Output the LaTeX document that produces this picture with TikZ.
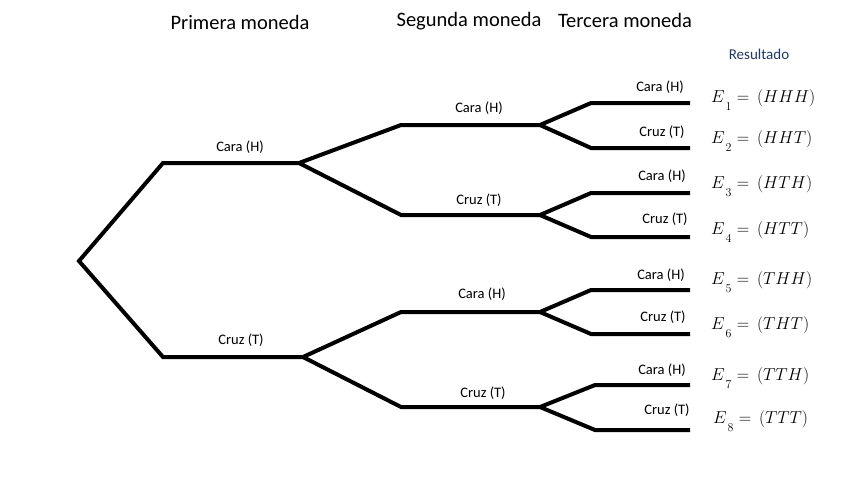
\documentclass[tikz,border=0pt]{standalone}
\usepackage{fontspec}
\setmainfont{Carlito}
\begin{document}
\begin{tikzpicture}[x=1pt,y=-1pt,
  branch/.style={line width=4pt,line join=miter,line cap=butt},
  head/.style={font=\fontsize{20.5}{24}\selectfont,inner sep=0pt},
  lab/.style={font=\fontsize{14.5}{17}\selectfont,inner sep=0pt},
  res/.style={font=\fontsize{15}{18}\selectfont,inner sep=0pt,text=resblue},
  ev/.style={font=\fontsize{17}{20}\selectfont,inner sep=0pt,anchor=west}]
\definecolor{resblue}{HTML}{1F3864}
\useasboundingbox (0,0) rectangle (866,480);
% coordinates
\coordinate (r) at (79,261);
\coordinate (a1) at (163,163); \coordinate (a2) at (299,163);
\coordinate (b1) at (163,357); \coordinate (b2) at (303,357);
\coordinate (aa1) at (401,125); \coordinate (aa2) at (540,125);
\coordinate (ab1) at (401,215); \coordinate (ab2) at (540,215);
\coordinate (ba1) at (401,312); \coordinate (ba2) at (540,312);
\coordinate (bb1) at (401,407); \coordinate (bb2) at (540,407);
\coordinate (l1a) at (591,103); \coordinate (l1b) at (690,103);
\coordinate (l2a) at (591,148); \coordinate (l2b) at (690,148);
\coordinate (l3a) at (591,193); \coordinate (l3b) at (690,193);
\coordinate (l4a) at (591,237); \coordinate (l4b) at (690,237);
\coordinate (l5a) at (591,290); \coordinate (l5b) at (690,290);
\coordinate (l6a) at (591,334); \coordinate (l6b) at (690,334);
\coordinate (l7a) at (595,385); \coordinate (l7b) at (690,385);
\coordinate (l8a) at (595,430); \coordinate (l8b) at (690,430);
% branches
\draw[branch] (a2) -- (a1) -- (r) -- (b1) -- (b2);
\draw[branch] (aa2) -- (aa1) -- (a2) -- (ab1) -- (ab2);
\draw[branch] (ba2) -- (ba1) -- (b2) -- (bb1) -- (bb2);
\draw[branch] (l1b) -- (l1a) -- (aa2) -- (l2a) -- (l2b);
\draw[branch] (l3b) -- (l3a) -- (ab2) -- (l4a) -- (l4b);
\draw[branch] (l5b) -- (l5a) -- (ba2) -- (l6a) -- (l6b);
\draw[branch] (l7b) -- (l7a) -- (bb2) -- (l8a) -- (l8b);
% headers
\node[head] (h1) at (240,22) {Primera moneda};
\node[head] (h2) at (469,21) {Segunda moneda};
\node[head] (h3) at (625,20) {Tercera moneda};
\node[res] (h4) at (759,54) {Resultado};
% labels
\node[lab] (t1) at (240,147) {Cara (H)};
\node[lab] (t2) at (241,340) {Cruz (T)};
\node[lab] (t3) at (479,108) {Cara (H)};
\node[lab] (t4) at (479,200) {Cruz (T)};
\node[lab] (t5) at (482,294) {Cara (H)};
\node[lab] (t6) at (483,393) {Cruz (T)};
\node[lab] (u1) at (660,87) {Cara (H)};
\node[lab] (u2) at (662,132) {Cruz (T)};
\node[lab] (u3) at (662,176) {Cara (H)};
\node[lab] (u4) at (665,219) {Cruz (T)};
\node[lab] (u5) at (661,275) {Cara (H)};
\node[lab] (u6) at (663,317) {Cruz (T)};
\node[lab] (u7) at (662,370) {Cara (H)};
\node[lab] (u8) at (667,410) {Cruz (T)};
% results
\newcommand{\evlab}[2]{$E_{\,\raisebox{-5pt}{$\scriptstyle #1$}} =\, (#2)$}
\node[ev] (e1) at (711,100) {\evlab{1}{HHH}};
\node[ev] (e2) at (711,141) {\evlab{2}{HHT}};
\node[ev] (e3) at (711,186) {\evlab{3}{HTH}};
\node[ev] (e4) at (711,232) {\evlab{4}{HTT}};
\node[ev] (e5) at (711,282) {\evlab{5}{THH}};
\node[ev] (e6) at (711,327) {\evlab{6}{THT}};
\node[ev] (e7) at (711,378) {\evlab{7}{TTH}};
\node[ev] (e8) at (713,421) {\evlab{8}{TTT}};
\end{tikzpicture}
\end{document}
